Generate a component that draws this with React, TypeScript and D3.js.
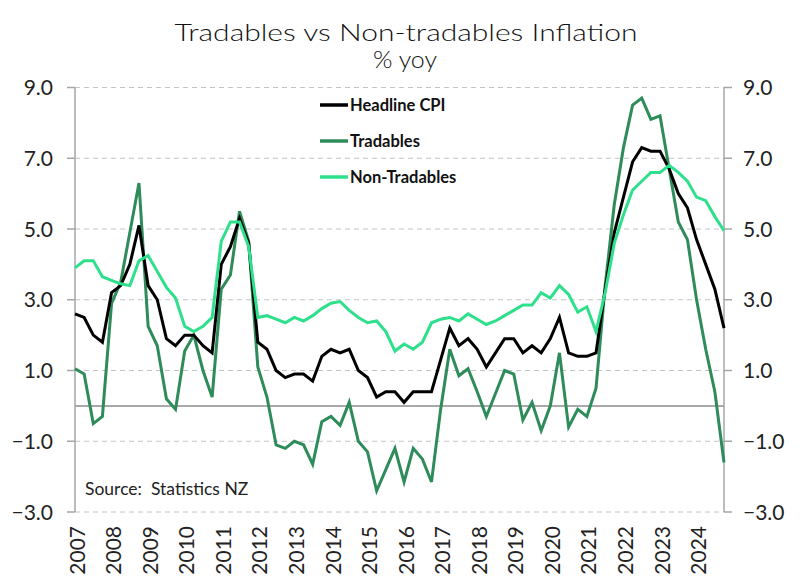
import React from "react";
import * as d3 from "d3";

const years = ["2007","2008","2009","2010","2011","2012","2013","2014","2015","2016","2017","2018","2019","2020","2021","2022","2023","2024"];
const yTicks = [-3, -1, 1, 3, 5, 7, 9];

// quarterly, 2006Q4 .. 2024Q3
const headline = [2.6,2.5,2.0,1.8,3.2,3.4,4.0,5.1,3.4,3.0,1.9,1.7,2.0,2.0,1.7,1.5,4.0,4.5,5.3,4.6,1.8,1.6,1.0,0.8,0.9,0.9,0.7,1.4,1.6,1.5,1.6,1.0,0.8,0.25,0.4,0.4,0.1,0.4,0.4,0.4,1.3,2.2,1.7,1.9,1.6,1.1,1.5,1.9,1.9,1.5,1.7,1.5,1.9,2.5,1.5,1.4,1.4,1.5,3.3,4.9,5.9,6.9,7.3,7.2,7.2,6.7,6.0,5.6,4.7,4.0,3.3,2.2];
const tradables = [1.05,0.9,-0.5,-0.3,2.9,3.5,4.9,6.3,2.25,1.7,0.2,-0.1,1.55,2.0,1.0,0.25,3.3,3.7,5.5,4.65,1.1,0.25,-1.1,-1.2,-1.0,-1.1,-1.65,-0.45,-0.3,-0.55,0.1,-1.0,-1.3,-2.4,-1.8,-1.2,-2.15,-1.2,-1.5,-2.15,-0.1,1.6,0.85,1.05,0.4,-0.3,0.35,1.0,0.9,-0.4,0.1,-0.7,0.0,1.5,-0.6,-0.1,-0.3,0.5,3.4,5.7,7.3,8.5,8.7,8.1,8.2,6.7,5.2,4.7,3.0,1.6,0.4,-1.6];
const nonTradables = [3.9,4.1,4.1,3.65,3.55,3.45,3.4,4.1,4.25,3.8,3.35,3.05,2.25,2.1,2.25,2.5,4.65,5.2,5.2,4.5,2.5,2.55,2.45,2.35,2.5,2.4,2.55,2.75,2.9,2.95,2.7,2.5,2.35,2.4,2.1,1.55,1.75,1.6,1.8,2.35,2.45,2.5,2.4,2.6,2.45,2.3,2.4,2.55,2.7,2.85,2.85,3.2,3.05,3.4,3.15,2.65,2.8,2.1,3.2,4.6,5.4,6.1,6.35,6.6,6.6,6.8,6.6,6.35,5.9,5.8,5.35,4.95];

const seriesNames = ["Headline CPI", "Tradables", "Non-Tradables"];
const seriesColors = ["#000000", "#2e8b5a", "#2ee08c"];

const FONT = "Lato, 'Open Sans', sans-serif";

export default function App() {
  const W = 800, H = 586;
  const left = 75, right = 724, top = 87.5, bottom = 512;
  const x = d3.scaleLinear().domain([0, headline.length - 1]).range([left, right]);
  const y = d3.scaleLinear().domain([-3, 9]).range([bottom, top]);
  const line = d3.line<number>().x((_, i) => x(i)).y((d) => y(d));
  const series = [headline, tradables, nonTradables];
  const drawOrder = [1, 0, 2];
  const legendY = [105, 141, 177];

  return (
    <svg width={W} height={H} style={{ position: "absolute", left: 0, top: 0, background: "#fff" }} fontFamily={FONT}>
      <rect width={W} height={H} fill="#fff" />
      <text x={406} y={41} textAnchor="middle" fontSize={24} fontWeight={300} fill="#111" textLength={463} lengthAdjust="spacingAndGlyphs">Tradables vs Non-tradables Inflation</text>
      <text x={405} y={68} textAnchor="middle" fontSize={24} fontWeight={300} fill="#111" textLength={64} lengthAdjust="spacingAndGlyphs">% yoy</text>

      {yTicks.map((t) => (
        <g key={t}>
          <line x1={left} x2={right} y1={y(t)} y2={y(t)} stroke="#c4c4c4" strokeWidth={1} strokeDasharray="5,4" />
          <line x1={left - 8} x2={left} y1={y(t)} y2={y(t)} stroke="#a6a6a6" strokeWidth={1.5} />
          <line x1={right} x2={right + 8} y1={y(t)} y2={y(t)} stroke="#a6a6a6" strokeWidth={1.5} />
          <text x={53} y={y(t)} dy="0.36em" textAnchor="end" fontSize={21} fill="#222">{d3.format(".1f")(t)}</text>
          <text x={743} y={y(t)} dy="0.36em" textAnchor="start" fontSize={21} fill="#222">{d3.format(".1f")(t)}</text>
        </g>
      ))}
      <line x1={left} x2={right} y1={y(0)} y2={y(0)} stroke="#8c8c8c" strokeWidth={1.5} />
      <line x1={left} x2={left} y1={top} y2={bottom} stroke="#a6a6a6" strokeWidth={1.5} />
      <line x1={right} x2={right} y1={top} y2={bottom} stroke="#a6a6a6" strokeWidth={1.5} />

      {years.map((yr, i) => (
        <text key={yr} transform={`translate(${x(i * 4) + 2},${526}) rotate(-90)`} dy="0.36em" textAnchor="end" fontSize={21} fill="#222">{yr}</text>
      ))}

      {drawOrder.map((k) => (
        <path key={k} d={line(series[k]) || ""} fill="none" stroke={seriesColors[k]} strokeWidth={3} strokeLinejoin="miter" />
      ))}

      {seriesNames.map((n, i) => (
        <g key={n}>
          <line x1={320} x2={348} y1={legendY[i]} y2={legendY[i]} stroke={seriesColors[i]} strokeWidth={3.5} />
          <text x={350} y={legendY[i]} dy="0.36em" fontSize={16.5} fontWeight="bold" fill="#111">{n}</text>
        </g>
      ))}

      <text x={85} y={495} fontSize={17.5} fill="#222">Source:{"\u00a0\u00a0"}Statistics NZ</text>
    </svg>
  );
}
